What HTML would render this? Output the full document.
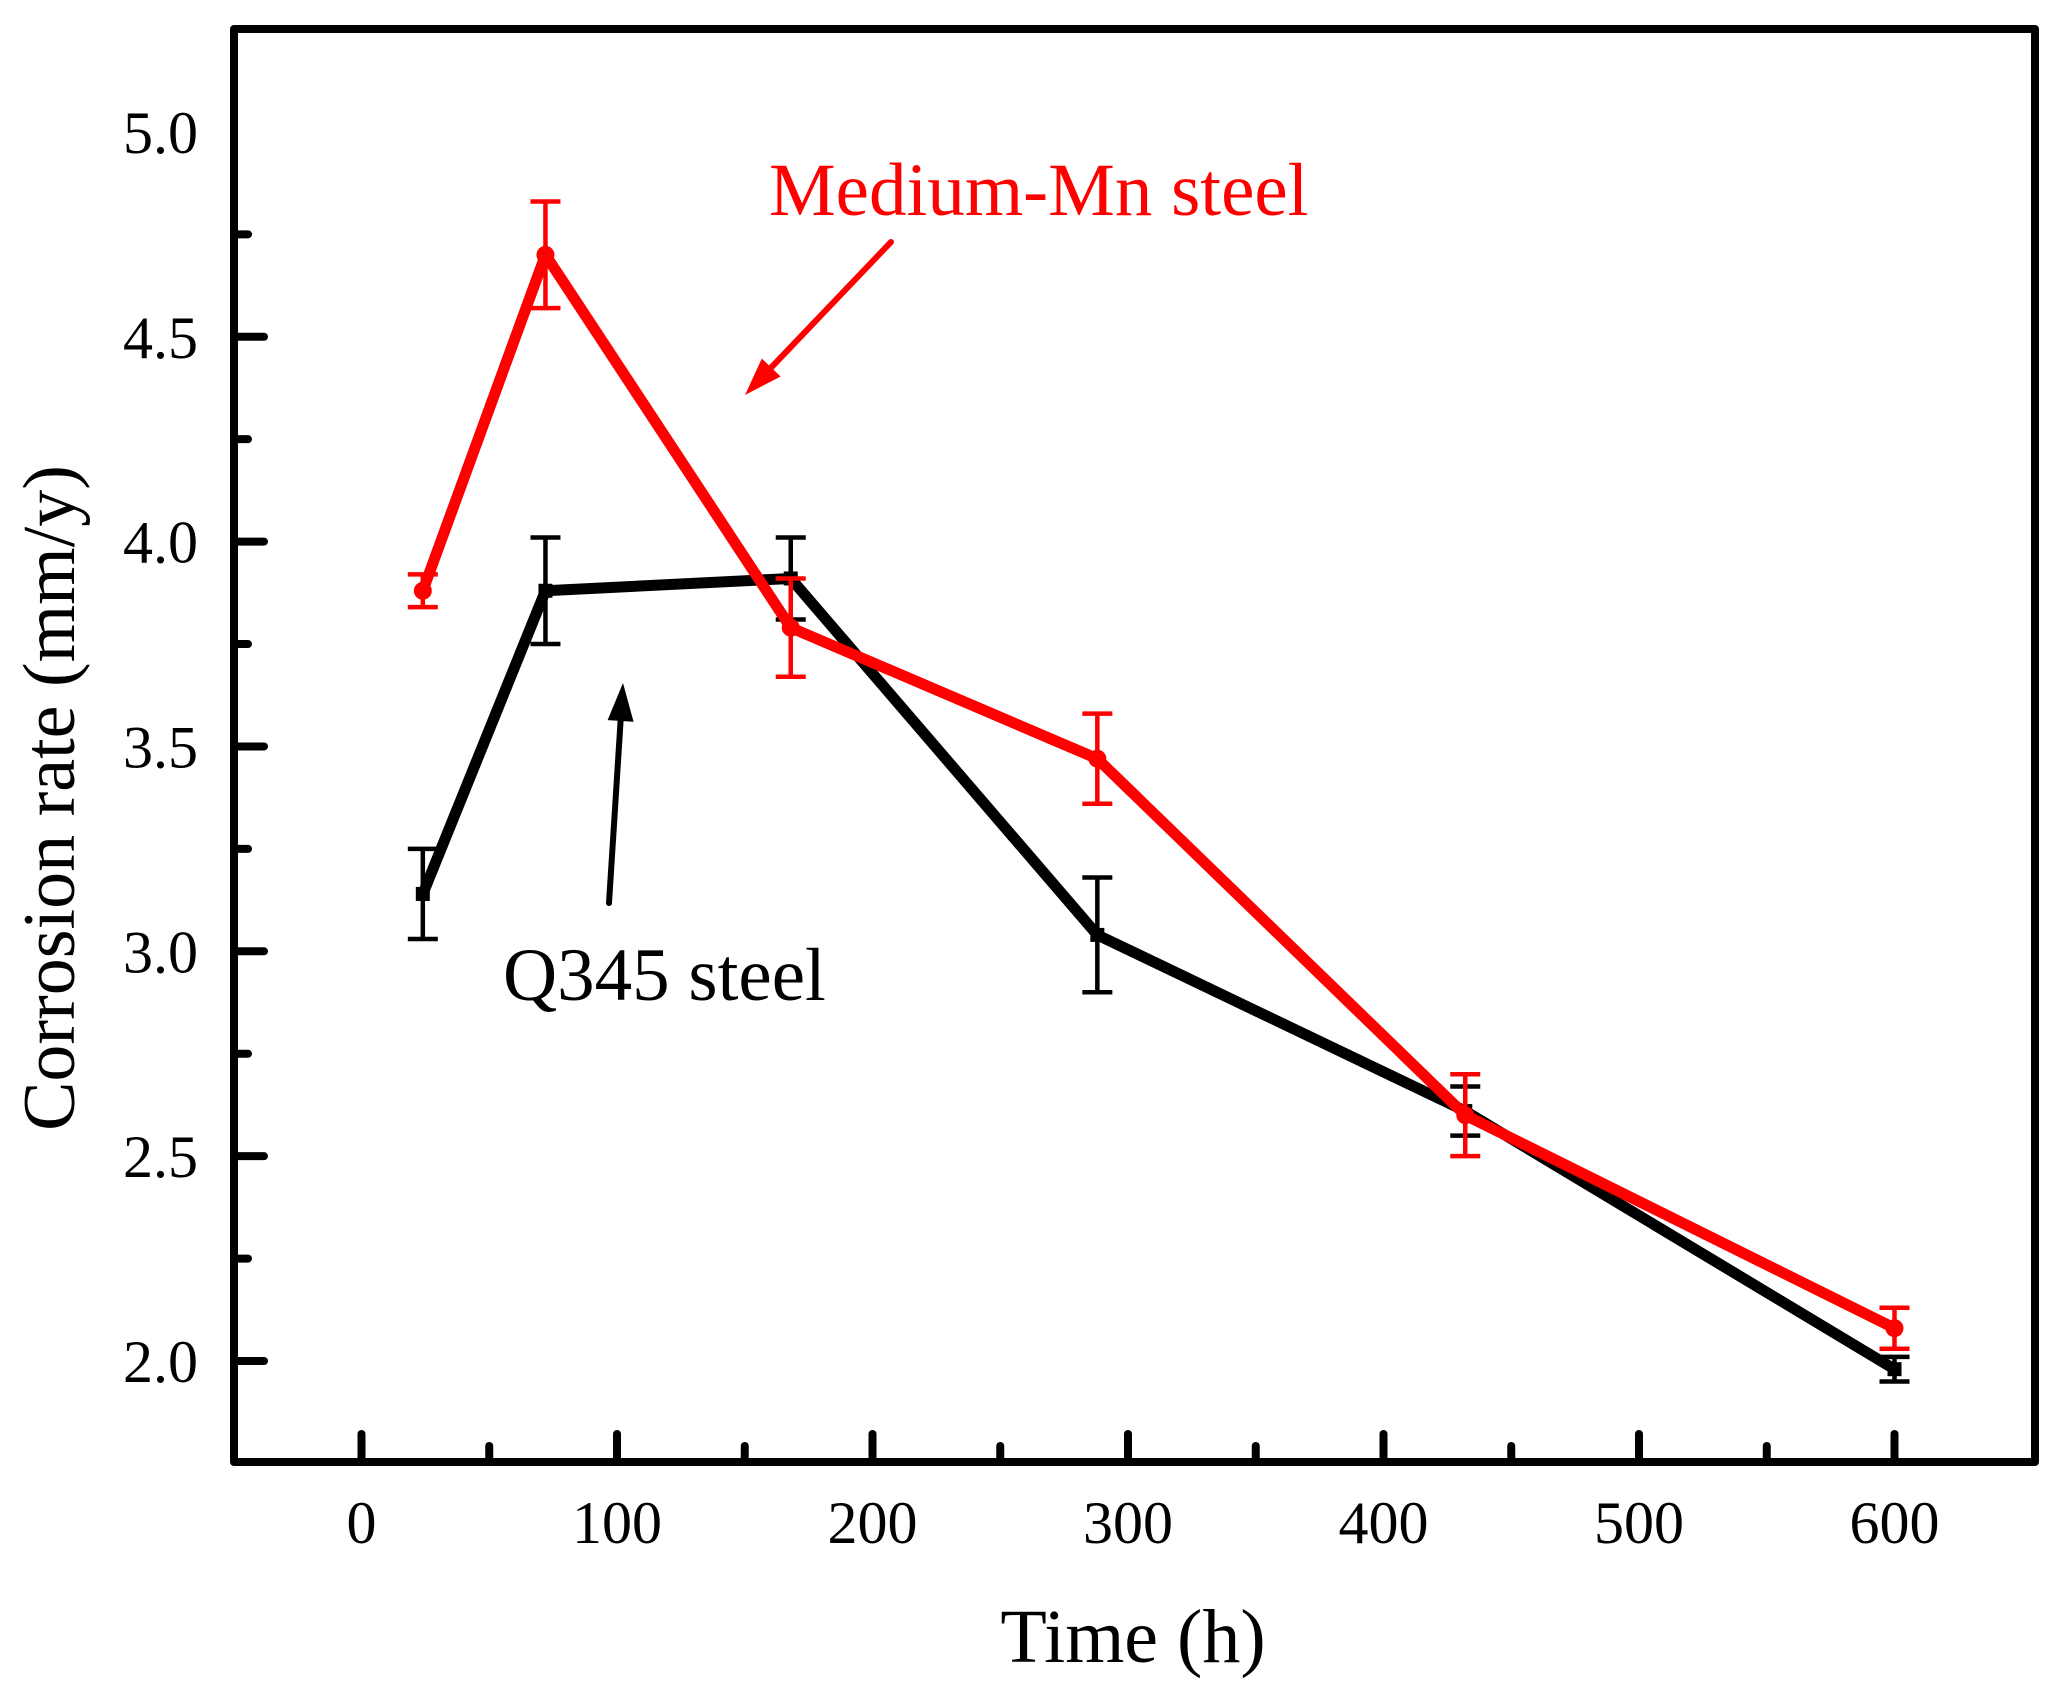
<!DOCTYPE html>
<html><head><meta charset="utf-8"><style>
html,body{margin:0;padding:0;background:#fff;}
svg{display:block;font-family:"Liberation Serif",serif;}
</style></head><body>
<svg id="chart" width="2051" height="1688" viewBox="0 0 2051 1688">
</svg>
<script>
const xTicks=[0,100,200,300,400,500,600];
const yTicks=[2.0,2.5,3.0,3.5,4.0,4.5,5.0];
const times=[24,72,168,288,432,600];
const q345=[3.14,3.88,3.91,3.04,2.61,1.98];
const q345Err=[0.11,0.13,0.10,0.14,0.06,0.03];
const mn=[3.88,4.70,3.79,3.47,2.60,2.08];
const mnErr=[0.04,0.13,0.12,0.11,0.10,0.05];

const NS='http://www.w3.org/2000/svg';
const svg=document.getElementById('chart');
const X=v=>361.5+v*2.555;
const Y=v=>1361-(v-2.0)*409.7;
const L=234,R=2035,T=29,B=1462;
function el(tag,attrs,parent){const e=document.createElementNS(NS,tag);for(const k in attrs)e.setAttribute(k,attrs[k]);(parent||svg).appendChild(e);return e;}

const frame=el('rect',{x:L,y:T,width:R-L,height:B-T,fill:'none',stroke:'#000','stroke-width':8,'stroke-linejoin':'round'});



for(let v=0;v<=600;v+=50){
  const major=v%100===0;
  const t=el('line',{x1:X(v),x2:X(v),y1:B,y2:B-(major?28:16),stroke:'#000','stroke-width':8,'stroke-linecap':'round'});
  
  
}
xTicks.forEach(v=>{
  const t=el('text',{x:X(v),y:1543,'font-size':60,'text-anchor':'middle'});
  t.textContent=v;
  
  
});
for(let i=0;i<=12;i++){
  const v=1.75+i*0.25;
  if(v<1.9||v>5.1)continue;
  const major=Math.abs((v*2)-Math.round(v*2))<1e-6;
  const t=el('line',{x1:L,x2:L+(major?30:14),y1:Y(v),y2:Y(v),stroke:'#000','stroke-width':8,'stroke-linecap':'round'});
  
  
}
yTicks.forEach(v=>{
  const t=el('text',{x:198,y:Y(v)+21,'font-size':60,'text-anchor':'end'});
  t.textContent=v.toFixed(1);
  
  
});

const xt=el('text',{x:1133,y:1662,'font-size':76,'text-anchor':'middle'});
xt.textContent='Time (h)';


const yt=el('text',{x:0,y:0,'font-size':74,'text-anchor':'middle',transform:'translate(74,798) rotate(-90)'});
yt.textContent='Corrosion rate (mm/y)';



function series(vals,errs,color,name,square){
  const g=el('g',{});
  
  
  const pts=times.map((t,i)=>X(t)+','+Y(vals[i])).join(' ');
  const pl=el('polyline',{points:pts,fill:'none',stroke:color,'stroke-width':11,'stroke-linejoin':'round'},g);
  
  
  times.forEach((t,i)=>{
    const x=X(t),y1=Y(vals[i]+errs[i]),y2=Y(vals[i]-errs[i]);
    const eb=el('path',{d:`M${x},${y1}V${y2}M${x-15},${y1}H${x+15}M${x-15},${y2}H${x+15}`,stroke:color,'stroke-width':4.5,fill:'none'},g);
    
    
    let m;
    if(square){m=el('rect',{x:x-7,y:Y(vals[i])-7,width:14,height:14,fill:color},g);}
    else{m=el('circle',{cx:x,cy:Y(vals[i]),r:9,fill:color},g);}
    
    
  });
}
series(q345,q345Err,'#000','q345-steel',true);
series(mn,mnErr,'#ff0000','medium-mn-steel',false);

const a1=el('text',{x:769,y:215,'font-size':75,fill:'#ff0000'});
a1.textContent='Medium-Mn steel';


const a2=el('text',{x:503,y:1000,'font-size':75,fill:'#000'});
a2.textContent='Q345 steel';



function arrow(x1,y1,x2,y2,color,name){
  const g=el('g',{});
  
  
  const dx=x2-x1,dy=y2-y1,len=Math.hypot(dx,dy),ux=dx/len,uy=dy/len;
  const hl=38,hw=13;
  const bx=x2-ux*hl,by=y2-uy*hl;
  el('line',{x1:x1,y1:y1,x2:bx,y2:by,stroke:color,'stroke-width':6,'stroke-linecap':'round'},g);
  el('polygon',{points:`${x2},${y2} ${bx-uy*hw},${by+ux*hw} ${bx+uy*hw},${by-ux*hw}`,fill:color},g);
}
arrow(891,242,745,395,'#ff0000','medium-mn-arrow');
arrow(609,903,623,683,'#000','q345-arrow');
</script>
</body></html>
